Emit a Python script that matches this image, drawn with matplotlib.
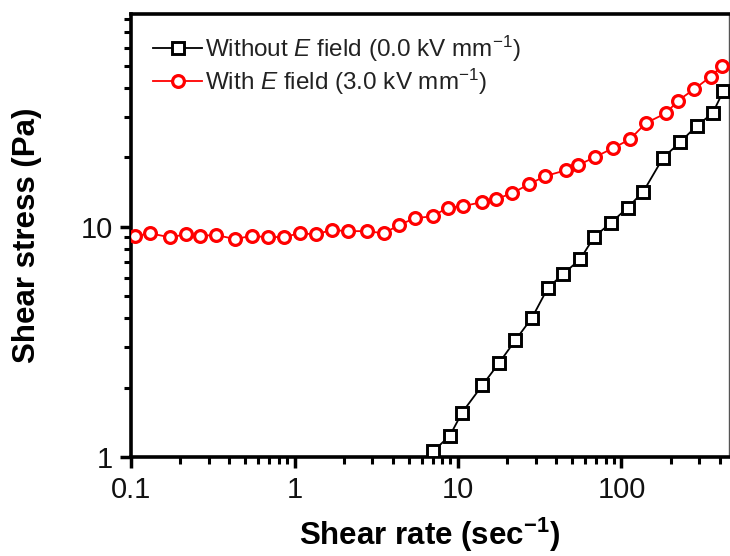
import matplotlib
matplotlib.use("Agg")
import matplotlib.pyplot as plt
from matplotlib.ticker import LogLocator, FixedLocator, FixedFormatter, NullFormatter

plt.rcParams['font.family'] = ['Liberation Sans', 'DejaVu Sans']
plt.rcParams['mathtext.fontset'] = 'custom'
plt.rcParams['mathtext.it'] = 'Liberation Sans:italic'
plt.rcParams['mathtext.rm'] = 'Liberation Sans'
plt.rcParams['mathtext.bf'] = 'Liberation Sans:bold'

# Without E field (0.0 kV/mm)
rate_off = [7.06, 8.93, 10.6, 14.1, 17.9, 22.4, 28.4, 35.5, 44.2, 56.0,
            68.2, 86.3, 109, 136, 180, 229, 288, 361, 420]
stress_off = [1.06, 1.24, 1.56, 2.05, 2.57, 3.21, 4.03, 5.43, 6.25, 7.24,
              9.05, 10.4, 12.1, 14.2, 19.95, 23.3, 27.4, 31.1, 38.8]

# With E field (3.0 kV/mm)
rate_on = [0.106, 0.131, 0.174, 0.217, 0.263, 0.332, 0.434, 0.550, 0.688, 0.867,
           1.08, 1.35, 1.69, 2.11, 2.77, 3.54, 4.33, 5.48, 6.99, 8.64,
           10.8, 14.1, 17.2, 21.5, 27.2, 34.2, 45.8, 54.2, 69.2, 88.3,
           113, 141, 187, 222, 279, 352, 415]
stress_on = [9.11, 9.36, 8.99, 9.29, 9.14, 9.20, 8.84, 9.14, 8.99, 9.05,
             9.36, 9.27, 9.68, 9.57, 9.57, 9.36, 10.17, 10.9, 11.1, 12.1,
             12.3, 12.8, 13.2, 14.0, 15.3, 16.6, 17.6, 18.5, 20.1, 21.9,
             24.0, 28.2, 31.1, 35.3, 39.6, 44.9, 50.1]

x_ticks = [0.1, 1, 10, 100]
x_ticklabels = ['0.1', '1', '10', '100']
y_ticks = [1, 10]
y_ticklabels = ['1', '10']

fig = plt.figure(figsize=(7.30, 5.56), dpi=100)
ax = fig.add_axes([0.1795, 0.178, 0.8185, 0.797])

ax.plot(rate_off, stress_off, color='black', lw=1.3, marker='s', ms=8,
        mfc='white', mec='black', mew=2.1,
        label='Without $\\mathit{E}$ field (0.0 kV mm$^{\\mathregular{-1}}$)', zorder=3)
ax.plot(rate_on, stress_on, color='red', lw=1.3, marker='o', ms=8.5,
        mfc='white', mec='red', mew=2.3,
        label='With $\\mathit{E}$ field (3.0 kV mm$^{\\mathregular{-1}}$)', zorder=3)

ax.set_xscale('log')
ax.set_yscale('log')
ax.set_xlim(0.1, 452)
ax.set_ylim(1, 84)

ax.xaxis.set_major_locator(FixedLocator(x_ticks))
ax.xaxis.set_major_formatter(FixedFormatter(x_ticklabels))
ax.yaxis.set_major_locator(FixedLocator(y_ticks))
ax.yaxis.set_major_formatter(FixedFormatter(y_ticklabels))
ax.xaxis.set_minor_locator(LogLocator(base=10, subs=range(2, 10)))
ax.yaxis.set_minor_locator(LogLocator(base=10, subs=range(2, 10)))
ax.xaxis.set_minor_formatter(NullFormatter())
ax.yaxis.set_minor_formatter(NullFormatter())

ax.tick_params(which='major', direction='out', length=8, width=2.5, labelsize=21,
               top=False, right=False, labelcolor='#111111')
ax.tick_params(which='minor', direction='out', length=5, width=2.2,
               top=False, right=False)
ax.tick_params(axis='x', which='major', pad=6)
ax.tick_params(axis='y', which='major', pad=5)

for s in ['left', 'bottom', 'top']:
    ax.spines[s].set_linewidth(2.6)
ax.spines['right'].set_linewidth(1.0)
ax.spines['right'].set_color('#555555')

ax.set_xlabel('Shear rate (sec$^{\\mathbf{-1}}$)', fontsize=22.5, fontweight='bold', labelpad=8)
ax.set_ylabel('Shear stress (Pa)', fontsize=22.5, fontweight='bold', labelpad=28)

leg = ax.legend(loc='upper left', frameon=False, fontsize=17.5, handlelength=2.0,
                handletextpad=0.1, borderaxespad=0.4, labelspacing=0.12,
                bbox_to_anchor=(0.005, 1.0))
for t in leg.get_texts():
    t.set_color('#222222')

fig.savefig('out.png', dpi=100)
